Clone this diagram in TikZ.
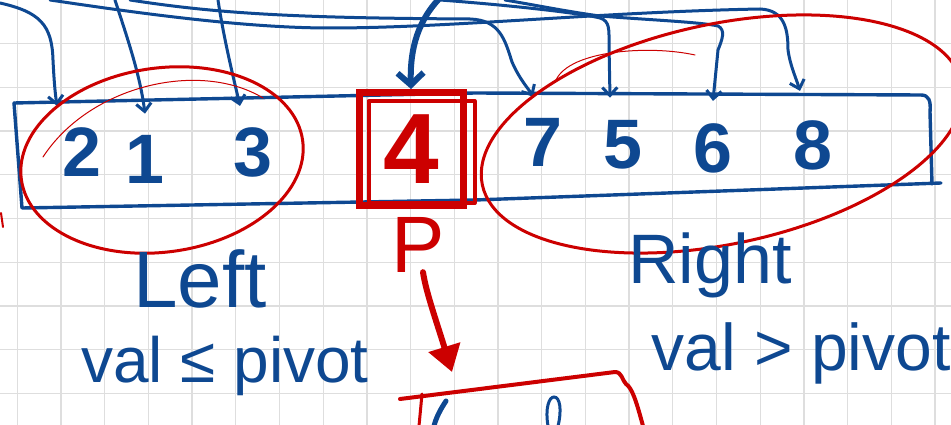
\documentclass[tikz,border=0pt]{standalone}
\usepackage{fontspec}
\setmainfont{Liberation Sans}
\usetikzlibrary{arrows.meta, positioning}

\definecolor{inkblue}{HTML}{0E4891}
\definecolor{inkred}{HTML}{CC0000}
\definecolor{gridgray}{HTML}{DEDEDE}

\begin{document}
\begin{tikzpicture}[
    x=1pt, y=-1pt,
    gridline/.style={draw=gridgray, line width=1.3pt},
    arrayline/.style={draw=inkblue, line width=3.4pt, line cap=round, line join=round},
    feed/.style={draw=inkblue, line width=3pt, line cap=round, -{Straight Barb[length=8pt, width=15pt]}},
    digit/.style={text=inkblue, font=\fontsize{70}{80}\selectfont\bfseries, anchor=base, inner xsep=0pt, inner ysep=22pt},
    pivotbox/.style={draw=inkred, line width=7pt, text=inkred, font=\fontsize{100}{110}\selectfont\bfseries, minimum width=104pt, minimum height=113pt, inner sep=0pt},
    setring/.style={draw=inkred, line width=3pt},
    redpen/.style={draw=inkred, line cap=round, line join=round},
    handtext/.style={text=inkblue, anchor=base, inner sep=0pt}
]

    \useasboundingbox[fill=white] (0,0) rectangle (951,425);

    % --- Grid paper ---
    \foreach \gx in {0,...,21}
        \draw[gridline] ({17.3+43.7*\gx},0) -- ({17.3+43.7*\gx},425);
    \foreach \gy in {1,...,9}
        \draw[gridline] (0,{43.7*\gy}) -- (951,{43.7*\gy});

    % --- Array ---
    \draw[arrayline] (14,103) -- (475,93) -- (921,95) .. controls (929,95) and (931,101) .. (930,112) -- (932,184);
    \draw[arrayline] (941,183) -- (475,200) -- (22,208) -- (14,103);

    % --- Elements ---
    \node[digit] (n2) at (82,177) {2};
    \node[digit] (n1) at (145,184) {1};
    \node[digit] (n3) at (253,177) {3};
    \node[digit] (n7) at (543,167) {7};
    \node[digit] (n5) at (623,168) {5};
    \node[digit] (n6) at (713,172) {6};
    \node[digit] (n8) at (813,170) {8};

    % --- Incoming values ---
    \coordinate (src2) at (0,3);
    \coordinate (src1) at (115,0);
    \coordinate (src3) at (218,0);
    \coordinate (src4) at (438,0);
    \coordinate (src7) at (130,0);
    \coordinate (src5) at (440,0);
    \coordinate (src6) at (505,0);
    \coordinate (src8) at (50,0);

    \draw[feed] (src2) .. controls (40,12) and (52,25) .. (53,60) .. controls (54,80) and (55,92) .. ([xshift=-25pt]n2.north);
    \draw[feed] (src1) .. controls (128,40) and (140,75) .. (n1.north);
    \draw[feed] (src3) .. controls (224,40) and (234,80) .. ([xshift=-13pt]n3.north);
    \draw[feed] (src7) .. controls (220,14) and (300,18) .. (470,19) .. controls (500,20) and (505,40) .. (512,62) .. controls (520,80) and (528,88) .. ([xshift=-10pt]n7.north);
    \draw[feed] (src5) .. controls (520,6) and (585,14) .. (600,18) .. controls (610,21) and (609,30) .. (609,45) -- ([xshift=-13pt]n5.north);
    \draw[feed] (src6) .. controls (540,6) and (570,12) .. (600,16) .. controls (650,20) and (700,22) .. (718,26) .. controls (726,30) and (722,40) .. (718,50) -- (n6.north);
    \draw[feed] (src8) .. controls (150,15) and (250,28) .. (330,28) .. controls (450,28) and (600,12) .. (760,9) .. controls (785,10) and (788,30) .. (788,50) .. controls (790,65) and (796,78) .. ([xshift=-13pt,yshift=8pt]n8.north);

    % --- Pivot ---
    \node[pivotbox] (pivot) at (411,149) {4};
    \draw[redpen, line width=4pt] ([shift={(13pt,-12pt)}]pivot.north west) rectangle ([shift={(8pt,6pt)}]pivot.south east);
    \draw[feed, line width=6pt, -{Straight Barb[length=12pt, width=26pt]}] (src4) .. controls (415,25) and (410,55) .. (pivot.north);

    % --- Partitions ---
    \draw[setring, rotate around={8:(162,160)}] (162,160) ellipse [x radius=142pt, y radius=92pt];
    \draw[redpen, line width=1pt] (43,157) .. controls (90,85) and (200,60) .. (263,98);
    \draw[setring, rotate around={12:(722,134)}] (722,134) ellipse [x radius=245pt, y radius=110pt];
    \draw[redpen, line width=1pt] (556,80) .. controls (570,50) and (650,45) .. (695,55);
    \draw[redpen, line width=2pt] (1,213) -- (3,227);

    \node[handtext, font=\fontsize{80}{90}\selectfont] (leftlbl) at (200,307) {Left};
    \node[handtext, font=\fontsize{64}{72}\selectfont] (leftrule) at (225,382) {val ≤ pivot};
    \node[handtext, font=\fontsize{70}{80}\selectfont] (rightlbl) at (710,283) {Right};
    \node[handtext, font=\fontsize{66}{74}\selectfont] (rightrule) at (801,370) {val > pivot};

    % --- Recursion ---
    \node[handtext, text=inkred, font=\fontsize{80}{90}\selectfont] (pmark) at (418,272) {P};
    \coordinate (nextbox) at (452,372);
    \draw[redpen, line width=6pt, -{Triangle[length=26pt, width=32pt]}] ([xshift=5pt]pmark.south) .. controls (426,292) and (436,320) .. (nextbox);
    \draw[redpen, line width=4pt] (400,399) -- (615,372) .. controls (622,372) and (622,380) .. (626,384) .. controls (632,388) and (636,400) .. (643,426);
    \draw[redpen, line width=3pt] (422,394) -- (419,426);
    \draw[draw=inkblue, line width=5pt, line cap=round] (446,401) .. controls (440,410) and (436,418) .. (434,426);
    \draw[draw=inkblue, line width=3pt] (548,426) .. controls (545,408) and (549,397) .. (554,397) .. controls (560,397) and (562,410) .. (558,426);

\end{tikzpicture}
\end{document}
